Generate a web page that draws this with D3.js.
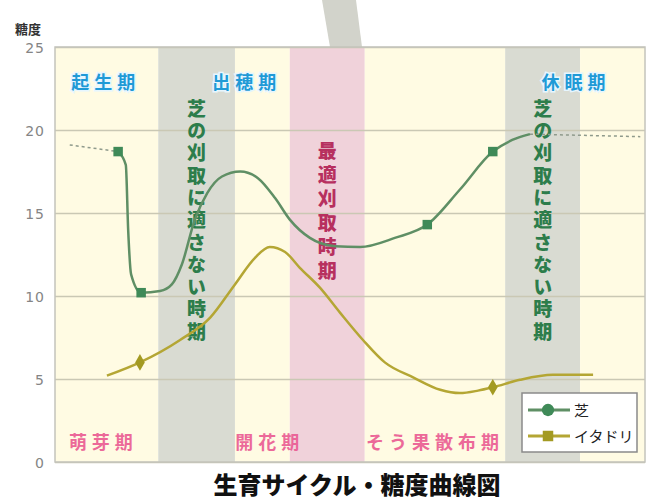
<!DOCTYPE html>
<html>
<head>
<meta charset="utf-8">
<script src="https://cdn.jsdelivr.net/npm/d3@7"></script>
<style>
  body { margin: 0; background: #fff; }
  svg { display: block; font-family: "Noto Sans CJK JP", "Noto Sans", sans-serif; }
</style>
</head>
<body>
<div id="chart"></div>
<script>
// time axis runs 0..100 across the growing season, values are sugar content (糖度)
const bandEdges = [0, 17.5, 30.5, 39.8, 52.5, 76.3, 89, 100];
const bandKinds = ["cream", "gray", "cream", "pink", "cream", "gray", "cream"];

const grassX = [10.7, 12.0, 12.4, 12.9, 14.6, 17.8, 19.8, 21.5, 23.7, 25.8, 28.3, 31.4, 34.4, 37.3, 39.8, 43.2, 47.5, 51.7, 57.6, 63.1, 68.6, 74.2, 77.5, 80.5];
const grassY = [18.7, 17.9, 14.0, 11.3, 10.2, 10.3, 10.7, 11.9, 14.6, 16.2, 17.2, 17.5, 17.1, 15.9, 14.6, 13.5, 13.0, 12.95, 13.5, 14.3, 16.4, 18.7, 19.4, 19.75];
const grassMarks = [0, 4, 19, 21];
const grassDashStart = [[2.5, 19.1], [10.7, 18.7]];
const grassDashEnd = [[80.5, 19.75], [99.2, 19.6]];

const itadoriX = [8.8, 14.4, 21.2, 26.3, 30.5, 33.9, 36.4, 39.0, 41.5, 44.9, 48.3, 52.2, 55.9, 60.7, 65.3, 68.6, 71.7, 74.2, 78.8, 84.4, 91.2];
const itadoriY = [5.2, 6.0, 7.35, 8.7, 10.7, 12.3, 12.95, 12.65, 11.7, 10.5, 9.0, 7.35, 6.0, 5.1, 4.35, 4.15, 4.3, 4.5, 4.95, 5.25, 5.25];
const itadoriMarks = [1, 17];

const yTicks = [0, 5, 10, 15, 20, 25];
const seasonLabels = ["起生期", "出穂期", "休眠期"];
const seasonAt = [8.6, 32.5, 88.3];
const stageLabels = ["萌芽期", "開花期", "そう果散布期"];
const stageAt = [8.2, 36.4, 64.4];
const noCutText = "芝の刈取に適さない時期";
const bestCutText = "最適刈取時期";
const legendNames = ["芝", "イタドリ"];

const W = 652, H = 503;
const colors = {
    cream: "#fffbe3",
    gray: "#d9dbd2",
    pink: "#f0d2da",
    grass: "#5f8f65",
    grassMark: "#3f8a58",
    itadori: "#b4a634",
    itadoriMark: "#a39a22"
};

const svg = d3.select("#chart").append("svg")
    .attr("width", W)
    .attr("height", H);

const x = d3.scaleLinear().domain([0, 100]).range([55, 645]);
const y = d3.scaleLinear().domain([0, 25]).range([462, 47]);

// the grey stalk sticking out above the plot
svg.append("path")
    .attr("d", "M322,0 L356,0 L362,47 L330,47 Z")
    .attr("fill", "#d2d3cb");

const bands = d3.pairs(bandEdges).map((p, i) => ({ x0: p[0], x1: p[1], kind: bandKinds[i] }));
svg.append("g").selectAll("rect")
    .data(bands)
    .join("rect")
    .attr("x", d => x(d.x0))
    .attr("y", y(25))
    .attr("width", d => x(d.x1) - x(d.x0))
    .attr("height", y(0) - y(25))
    .attr("fill", d => colors[d.kind]);

// grid + tick labels
const yAxis = svg.append("g")
    .attr("transform", `translate(${x(0)},0)`)
    .call(d3.axisLeft(y).tickValues(yTicks).tickSize(-(x(100) - x(0))).tickPadding(10));
yAxis.select(".domain").remove();
yAxis.selectAll(".tick line")
    .attr("stroke", "#cac8b4")
    .attr("stroke-width", 1.5);
yAxis.selectAll(".tick text")
    .attr("fill", "#858585")
    .attr("font-size", 14)
    .attr("letter-spacing", 1)
    .attr("dy", "0.4em")
    .attr("font-family", "DejaVu Sans, sans-serif");

svg.append("rect")
    .attr("x", x(0)).attr("y", y(25))
    .attr("width", x(100) - x(0)).attr("height", y(0) - y(25))
    .attr("fill", "none")
    .attr("stroke", "#c4c4bc")
    .attr("stroke-width", 1.5);

svg.append("text")
    .attr("x", 15).attr("y", 34)
    .attr("font-size", 13).attr("font-weight", 700)
    .attr("fill", "#333")
    .text("糖度");

// season names along the top
svg.append("g").selectAll("text")
    .data(seasonLabels)
    .join("text")
    .attr("x", (d, i) => x(seasonAt[i]))
    .attr("y", 89)
    .attr("text-anchor", "middle")
    .attr("font-size", 18).attr("font-weight", 700)
    .attr("letter-spacing", 5)
    .attr("fill", "#1f9ad6")
    .attr("stroke", "#e6f6ff").attr("stroke-width", 3)
    .attr("paint-order", "stroke")
    .text(d => d);

// stage names along the bottom
svg.append("g").selectAll("text")
    .data(stageLabels)
    .join("text")
    .attr("x", (d, i) => x(stageAt[i]))
    .attr("y", 449)
    .attr("text-anchor", "middle")
    .attr("font-size", 18).attr("font-weight", 700)
    .attr("letter-spacing", 5)
    .attr("fill", "#ea5a92")
    .attr("opacity", 0.9)
    .text(d => d);

// vertical (tategaki) labels as a single text each
function verticalText(cx, top, spacing, text, size, color) {
    svg.append("text")
        .attr("x", cx)
        .attr("y", top)
        .attr("writing-mode", "vertical-rl")
        .attr("text-anchor", "start")
        .attr("font-size", size).attr("font-weight", 900)
        .attr("letter-spacing", spacing)
        .attr("fill", color)
        .text(text);
}

const grayBands = bands.filter(b => b.kind === "gray");
grayBands.forEach(b => verticalText((x(b.x0) + x(b.x1)) / 2, 99, 3.3, noCutText, 19, "#2d7d4b"));
const pinkBand = bands.find(b => b.kind === "pink");
verticalText((x(pinkBand.x0) + x(pinkBand.x1)) / 2, 141, 5, bestCutText, 19, "#b7305f");

// series
const line = d3.line().x(d => x(d[0])).y(d => y(d[1])).curve(d3.curveMonotoneX);
const grass = grassX.map((v, i) => [v, grassY[i]]);
const itadori = itadoriX.map((v, i) => [v, itadoriY[i]]);

[grassDashStart, grassDashEnd].forEach(seg => {
    svg.append("path")
        .attr("d", d3.line().x(d => x(d[0])).y(d => y(d[1]))(seg))
        .attr("fill", "none")
        .attr("stroke", "#8f9a8c")
        .attr("stroke-width", 1.5)
        .attr("stroke-dasharray", "3,3");
});

svg.append("path")
    .attr("d", line(itadori))
    .attr("fill", "none")
    .attr("stroke", colors.itadori)
    .attr("stroke-width", 2.5);

svg.append("path")
    .attr("d", line(grass))
    .attr("fill", "none")
    .attr("stroke", colors.grass)
    .attr("stroke-width", 2.5);

svg.append("g").selectAll("path")
    .data(grassMarks.map(i => grass[i]))
    .join("path")
    .attr("transform", d => `translate(${x(d[0])},${y(d[1])})`)
    .attr("d", d3.symbol(d3.symbolSquare, 90))
    .attr("fill", colors.grassMark);

svg.append("g").selectAll("path")
    .data(itadoriMarks.map(i => itadori[i]))
    .join("path")
    .attr("transform", d => `translate(${x(d[0])},${y(d[1])})`)
    .attr("d", d3.symbol(d3.symbolDiamond, 80))
    .attr("fill", colors.itadoriMark);

// legend
const legend = svg.append("g").attr("transform", "translate(522,393)");
legend.append("rect")
    .attr("width", 115).attr("height", 59)
    .attr("fill", "#fff")
    .attr("stroke", "#8a8a8a")
    .attr("stroke-width", 1.5);
const legendColors = [[colors.grass, colors.grassMark], [colors.itadori, colors.itadoriMark]];
legendNames.forEach((name, i) => {
    const row = legend.append("g").attr("transform", `translate(0,${17 + i * 26})`);
    row.append("line")
        .attr("x1", 6).attr("x2", 48)
        .attr("stroke", legendColors[i][0])
        .attr("stroke-width", 3);
    row.append("path")
        .attr("transform", "translate(26,0)")
        .attr("d", d3.symbol(i ? d3.symbolSquare : d3.symbolCircle, i ? 110 : 120))
        .attr("fill", legendColors[i][1]);
    row.append("text")
        .attr("x", 52).attr("y", 6)
        .attr("font-size", 15)
        .attr("fill", "#222")
        .text(name);
});

svg.append("text")
    .attr("x", 357).attr("y", 494)
    .attr("text-anchor", "middle")
    .attr("font-size", 24).attr("font-weight", 900)
    .attr("fill", "#111")
    .text("生育サイクル・糖度曲線図");
</script>
</body>
</html>
